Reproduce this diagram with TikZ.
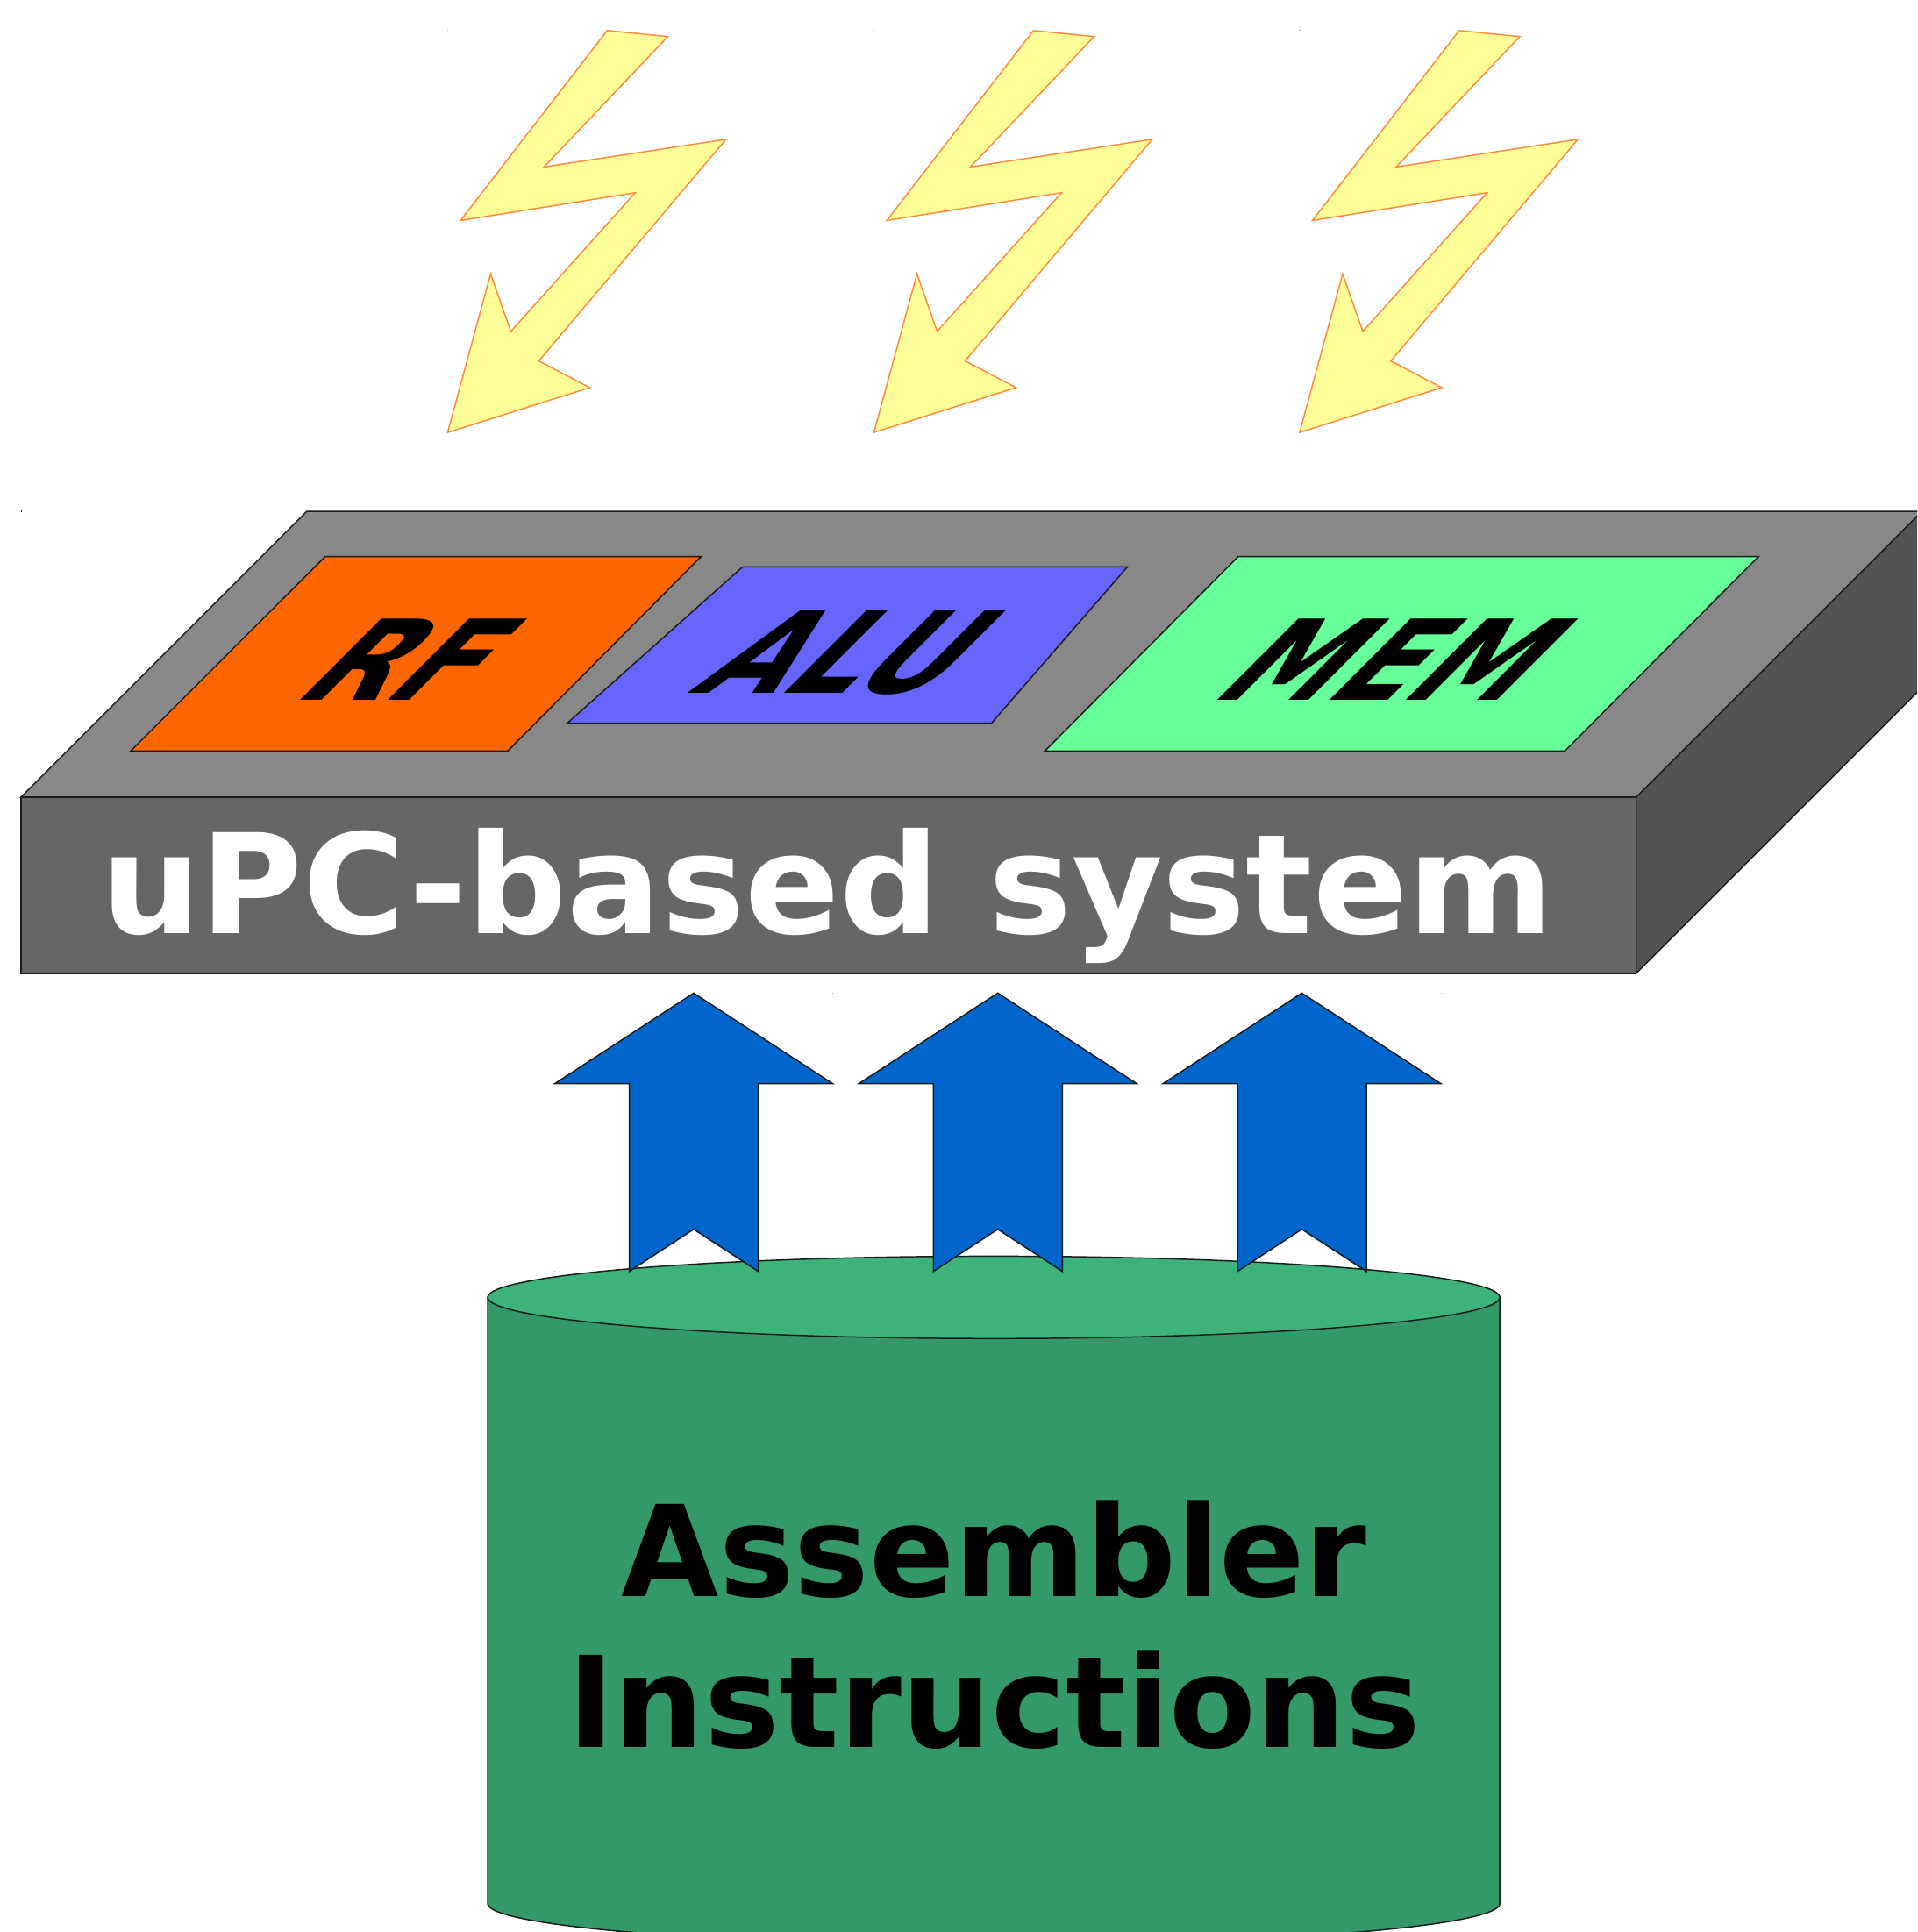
\documentclass[tikz,border=0pt]{standalone}
\usepackage{graphicx}
\usepackage{fontspec}
\setmainfont{DejaVu Sans}
\definecolor{blocktop}{HTML}{888888}
\definecolor{blockfront}{HTML}{666666}
\definecolor{blockside}{HTML}{525252}
\definecolor{rfcol}{HTML}{FF6600}
\definecolor{alucol}{HTML}{6666FF}
\definecolor{memcol}{HTML}{66FF99}
\definecolor{boltfill}{HTML}{FFFF99}
\definecolor{boltline}{HTML}{FF8A3C}
\definecolor{arrowcol}{HTML}{0066CC}
\definecolor{cylcol}{HTML}{339966}
\definecolor{cyltop}{HTML}{3CB378}
\definecolor{edgecol}{HTML}{1A1A1A}
\tikzset{
  edge/.style={draw=edgecol,line width=0.3pt,line join=miter},
  bolt/.style={draw=boltline,fill=boltfill,line width=0.3pt},
  uparrow/.style={edge,fill=arrowcol},
  shearlabel/.style={inner sep=0pt,outer sep=0pt,font=\bfseries,text=black,xslant=1,transform shape},
  plainlabel/.style={inner sep=0pt,outer sep=0pt}
}
\begin{document}
\begin{tikzpicture}[x=0.01cm,y=-0.01cm]
\path[use as bounding box] (0,0) rectangle (1556,1568.1);
\clip (0,0) rectangle (1556,1568.1);
% tiny specks
\fill[black] (16.8,414.5) rectangle (17.6,416);
\fill[gray!60] (587,459.6) rectangle (587.8,460.6);
\fill[gray!60] (396,1019.4) rectangle (396.8,1020.4);
\foreach \dx in {0,346,691.5}{
  \fill[boltline!70,shift={(\dx,0)}] (363,24.4) rectangle (363.8,25.2);
  \fill[boltline!70,shift={(\dx,0)}] (588.8,349.4) rectangle (589.6,350.2);
}
\foreach \dx in {0,246.8,493.6}{
  \fill[gray!60,shift={(\dx,0)}] (675.6,805.4) rectangle (676.4,806.4);
  \fill[gray!60,shift={(\dx,0)}] (450,1031.4) rectangle (450.8,1032.4);
}
% lightning bolts
\foreach \dx in {0,346,691.5}{
  \draw[bolt,shift={(\dx,0)}] (492.8,24.8) -- (542,29.7) -- (441.6,135.5) -- (589.2,113.1)
    -- (437.3,293) -- (478.6,314.6) -- (363.3,351) -- (398.2,222.4) -- (414.6,269)
    -- (515.6,156.4) -- (373.7,179) -- cycle;
}
% block
\draw[edge,fill=blockside] (1328,647) -- (1560,415) -- (1560,558) -- (1328,790) -- cycle;
\draw[edge,fill=blocktop] (17,647) -- (249,415) -- (1560,415) -- (1328,647) -- cycle;
\draw[edge,fill=blockfront] (17,647) rectangle (1328,790);
\draw[edge,fill=rfcol] (264,451.7) -- (569,451.7) -- (412,609.6) -- (106,609.6) -- cycle;
\draw[edge,fill=alucol] (602.7,460.1) -- (915,460.1) -- (804.7,587) -- (460.4,587) -- cycle;
\draw[edge,fill=memcol] (1005,451.7) -- (1427.3,451.7) -- (1270,609.6) -- (848,609.6) -- cycle;
\begin{scope}[shift={(335.5,535)}]
  \node[shearlabel] (rf) at (0,0) {\resizebox{1.35cm}{0.66cm}{RF}};
\end{scope}
\begin{scope}[shift={(690.5,530)}]
  \node[shearlabel] (alu) at (0,0) {\resizebox{2.00cm}{0.67cm}{ALU}};
\end{scope}
\begin{scope}[shift={(1135,535)}]
  \node[shearlabel] (mem) at (0,0) {\resizebox{2.44cm}{0.66cm}{MEM}};
\end{scope}
\node[plainlabel,text=white,anchor=base,font=\bfseries\fontsize{32pt}{36pt}\selectfont] (sys) at (671.5,758)
  {\scalebox{1.0086}[1]{uPC-based system}};
% cylinder
\draw[edge,fill=cylcol] (395.8,1053) -- (395.8,1545) arc[start angle=180,end angle=360,x radius=410.75,y radius=-33.4]
  -- (1217.3,1053) -- cycle;
\draw[edge,fill=cyltop] (806.55,1053) ellipse[x radius=410.75,y radius=33.4];
\begin{scope}[shift={(807,1319)}]
  \node[plainlabel,text=black,align=center,xscale=0.996,transform shape,font=\bfseries\fontsize{29.2pt}{34.87pt}\selectfont] (asm) at (0,0)
    {Assembler\\ Instructions};
\end{scope}
% arrows
\foreach \dx in {0,246.8,493.6}{
  \draw[uparrow,shift={(\dx,0)}] (563,806) -- (675.8,879.5) -- (615.4,879.5) -- (615.4,1031.9)
    -- (563,997.7) -- (510.8,1031.9) -- (510.8,879.5) -- (450.3,879.5) -- cycle;
}
\end{tikzpicture}
\end{document}
